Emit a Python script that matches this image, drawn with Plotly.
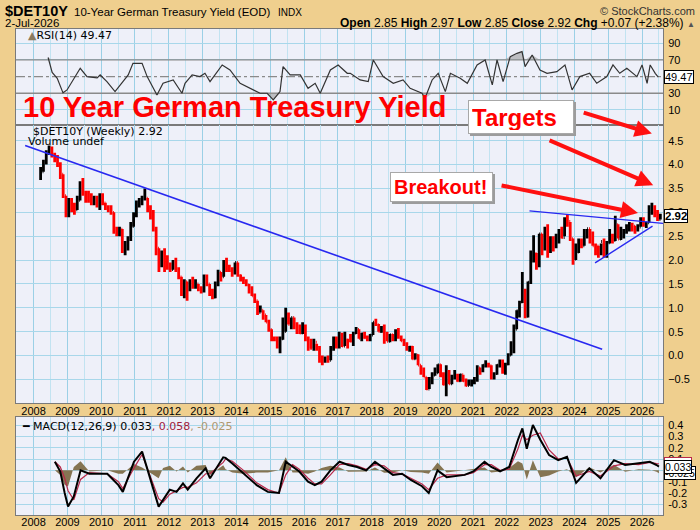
import numpy as np
import plotly.graph_objects as go

# ---------------- DATA ----------------
# Monthly bars, first bar = March 2008
first_year = 2008
first_month = 3

price_high = [
    3.95, 4.10, 4.30, 4.40, 4.38, 4.25, 4.20, 4.05, 3.80, 3.35,              # 2008 Mar-Dec
    3.30, 3.30, 3.20, 3.35, 3.65, 3.72, 3.45, 3.45, 3.40, 3.35, 3.35, 3.40,  # 2009
    3.40, 3.20, 3.15, 3.15, 3.00, 2.70, 2.70, 2.65, 2.40, 2.50, 2.80, 3.00,  # 2010
    3.25, 3.30, 3.35, 3.50, 3.30, 3.15, 3.05, 2.70, 2.25, 2.20, 2.25, 2.10,  # 2011
    1.95, 2.00, 2.05, 1.85, 1.65, 1.60, 1.55, 1.60, 1.65, 1.60, 1.50, 1.45,  # 2012
    1.70, 1.70, 1.50, 1.40, 1.55, 1.80, 1.75, 2.00, 2.05, 1.90, 1.85, 1.95,  # 2013
    1.95, 1.70, 1.65, 1.60, 1.50, 1.45, 1.30, 1.15, 1.05, 0.95, 0.85, 0.75,  # 2014
    0.55, 0.40, 0.40, 0.40, 0.80, 1.00, 0.90, 0.80, 0.80, 0.70, 0.65, 0.70,  # 2015
    0.65, 0.40, 0.35, 0.35, 0.25, 0.20, 0.00, -0.02, 0.00, 0.20, 0.40, 0.40, # 2016
    0.50, 0.48, 0.50, 0.35, 0.45, 0.50, 0.60, 0.55, 0.48, 0.50, 0.42, 0.45,  # 2017
    0.70, 0.77, 0.66, 0.62, 0.65, 0.50, 0.45, 0.45, 0.55, 0.58, 0.42, 0.35,  # 2018
    0.28, 0.20, 0.20, 0.05, 0.03, -0.20, -0.25, -0.45, -0.45, -0.35, -0.25, -0.18,  # 2019
    -0.18, -0.35, -0.20, -0.30, -0.40, -0.30, -0.38, -0.38, -0.40, -0.48, -0.50, -0.50,  # 2020
    -0.45, -0.20, -0.25, -0.18, -0.10, -0.15, -0.20, -0.35, -0.18, -0.08, -0.08, -0.15,  # 2021
    0.05, 0.30, 0.65, 0.95, 1.15, 1.75, 1.40, 1.55, 2.20, 2.52, 2.15, 2.55,  # 2022
    2.55, 2.70, 2.75, 2.50, 2.50, 2.55, 2.65, 2.70, 2.90, 2.95, 2.80, 2.45,  # 2023
    2.35, 2.45, 2.45, 2.65, 2.65, 2.65, 2.60, 2.35, 2.30, 2.35, 2.45, 2.40,  # 2024
    2.65, 2.55, 2.93, 2.75, 2.70, 2.65, 2.75, 2.80, 2.78, 2.72, 2.75, 2.90,  # 2025
    2.90, 2.80, 3.15, 3.20, 3.15, 3.05, 2.97,                                # 2026 Jan-Jul
]
price_low = [
    3.68, 3.85, 4.00, 4.20, 4.15, 4.05, 3.95, 3.70, 3.30, 2.90,
    2.90, 3.00, 2.95, 3.05, 3.25, 3.35, 3.20, 3.20, 3.15, 3.15, 3.10, 3.05,
    3.15, 3.05, 3.00, 2.95, 2.55, 2.50, 2.50, 2.15, 2.10, 2.20, 2.40, 2.70,
    2.90, 3.10, 3.15, 3.25, 3.00, 2.85, 2.60, 2.10, 1.75, 1.85, 1.75, 1.80,
    1.75, 1.80, 1.75, 1.60, 1.25, 1.20, 1.15, 1.35, 1.40, 1.40, 1.35, 1.30,
    1.32, 1.45, 1.25, 1.18, 1.20, 1.45, 1.55, 1.65, 1.75, 1.75, 1.65, 1.70,
    1.65, 1.55, 1.50, 1.45, 1.30, 1.25, 1.10, 0.85, 0.90, 0.75, 0.70, 0.50,
    0.30, 0.30, 0.15, 0.05, 0.33, 0.50, 0.65, 0.55, 0.55, 0.45, 0.45, 0.45,
    0.30, 0.10, 0.15, 0.10, 0.10, -0.15, -0.20, -0.15, -0.15, -0.10, 0.10, 0.15,
    0.15, 0.18, 0.20, 0.15, 0.28, 0.20, 0.45, 0.35, 0.30, 0.35, 0.30, 0.30,
    0.43, 0.62, 0.50, 0.48, 0.25, 0.30, 0.28, 0.30, 0.30, 0.35, 0.30, 0.20,
    0.10, 0.08, -0.08, -0.08, -0.20, -0.40, -0.45, -0.72, -0.70, -0.60, -0.42, -0.37,
    -0.45, -0.62, -0.85, -0.60, -0.60, -0.50, -0.55, -0.55, -0.55, -0.65, -0.63, -0.65,
    -0.60, -0.55, -0.40, -0.35, -0.25, -0.25, -0.50, -0.50, -0.40, -0.25, -0.38, -0.40,
    -0.20, 0.00, 0.05, 0.55, 0.80, 1.10, 0.78, 0.80, 1.50, 1.95, 1.80, 1.85,
    2.10, 2.20, 2.05, 2.15, 2.18, 2.25, 2.35, 2.45, 2.50, 2.70, 2.40, 1.90,
    2.00, 2.15, 2.25, 2.30, 2.45, 2.35, 2.30, 2.10, 2.05, 2.10, 2.05, 2.05,
    2.35, 2.35, 2.40, 2.45, 2.42, 2.45, 2.55, 2.60, 2.60, 2.55, 2.60, 2.70,
    2.70, 2.67, 2.78, 2.95, 2.90, 2.82, 2.85,
]
price_close = [
    3.85, 4.05, 4.25, 4.30, 4.20, 4.10, 4.00, 3.80, 3.35, 3.00,
    3.25, 3.10, 3.05, 3.25, 3.55, 3.40, 3.35, 3.30, 3.20, 3.25, 3.20, 3.35,
    3.20, 3.10, 3.05, 3.00, 2.65, 2.55, 2.65, 2.20, 2.30, 2.45, 2.70, 2.95,
    3.20, 3.20, 3.30, 3.30, 3.05, 3.00, 2.65, 2.25, 1.90, 2.05, 2.00, 1.85,
    1.80, 1.85, 1.80, 1.65, 1.30, 1.55, 1.40, 1.50, 1.45, 1.50, 1.40, 1.35,
    1.65, 1.50, 1.30, 1.22, 1.50, 1.75, 1.65, 1.90, 1.80, 1.80, 1.75, 1.95,
    1.68, 1.60, 1.55, 1.48, 1.35, 1.25, 1.15, 0.90, 0.95, 0.85, 0.70, 0.55,
    0.35, 0.35, 0.20, 0.35, 0.50, 0.80, 0.65, 0.80, 0.60, 0.50, 0.47, 0.62,
    0.35, 0.15, 0.15, 0.28, 0.15, -0.10, -0.10, -0.05, -0.10, 0.15, 0.25, 0.20,
    0.45, 0.20, 0.33, 0.32, 0.30, 0.47, 0.55, 0.36, 0.46, 0.37, 0.37, 0.43,
    0.70, 0.65, 0.50, 0.56, 0.34, 0.30, 0.44, 0.33, 0.47, 0.38, 0.31, 0.24,
    0.15, 0.18, -0.07, 0.01, -0.20, -0.33, -0.45, -0.70, -0.57, -0.41, -0.36, -0.19,
    -0.43, -0.61, -0.47, -0.59, -0.45, -0.45, -0.53, -0.40, -0.53, -0.63, -0.57, -0.57,
    -0.52, -0.26, -0.29, -0.20, -0.19, -0.21, -0.46, -0.38, -0.20, -0.11, -0.35, -0.18,
    0.01, 0.14, 0.55, 0.94, 1.12, 1.34, 0.82, 1.54, 2.11, 2.14, 1.93, 2.55,
    2.29, 2.65, 2.29, 2.31, 2.28, 2.39, 2.49, 2.47, 2.84, 2.81, 2.45, 2.02,
    2.17, 2.41, 2.30, 2.58, 2.66, 2.50, 2.30, 2.30, 2.13, 2.39, 2.09, 2.36,
    2.46, 2.41, 2.74, 2.44, 2.50, 2.60, 2.70, 2.72, 2.71, 2.63, 2.69, 2.86,
    2.75, 2.78, 3.05, 3.05, 3.00, 2.85, 2.92,
]

# RSI(14) readings (decimal year, value)
rsi_t = [2008.43, 2008.55, 2008.70, 2008.87, 2008.99, 2009.14, 2009.38, 2009.58, 2009.88, 2009.97,
         2010.17, 2010.41, 2010.56, 2010.80, 2010.94, 2011.21, 2011.36, 2011.65, 2011.83, 2012.13,
         2012.39, 2012.48, 2012.69, 2012.92, 2013.07, 2013.22, 2013.58, 2013.81, 2014.11, 2014.40,
         2014.70, 2014.91, 2015.09, 2015.29, 2015.38, 2015.59, 2015.89, 2016.12, 2016.33, 2016.48,
         2016.78, 2017.01, 2017.28, 2017.37, 2017.66, 2017.90, 2018.05, 2018.34, 2018.64, 2018.93,
         2019.14, 2019.49, 2019.58, 2019.79, 2019.97, 2020.18, 2020.33, 2020.62, 2020.83, 2021.12,
         2021.36, 2021.57, 2021.71, 2021.89, 2022.10, 2022.30, 2022.45, 2022.54, 2022.75, 2022.98,
         2023.19, 2023.48, 2023.72, 2023.93, 2024.16, 2024.45, 2024.66, 2024.96, 2025.14, 2025.34,
         2025.55, 2025.85, 2026.00, 2026.15, 2026.24, 2026.39, 2026.48]
rsi_val = [73, 55, 48, 30.5, 34, 44, 60, 50, 48.5, 52,
           44, 32, 40, 52, 66, 66, 50, 28, 42, 46,
           30, 42, 52, 50, 54, 44, 64, 58, 42, 36,
           30, 30, 22, 32, 62, 52, 52, 36, 42, 30,
           58, 64, 54, 54, 46, 44, 70, 50, 42, 46,
           36, 30, 24, 46, 54, 32, 54, 48, 42, 64,
           70, 40, 70, 44, 74, 78, 80, 62, 76, 58,
           54, 56, 64, 34, 50, 54, 42, 50, 64, 54,
           60, 50, 64, 42, 64, 54, 49.47]

# MACD(12,26,9) readings (decimal year, MACD, signal)
macd_t = [2008.63, 2008.79, 2008.92, 2009.02, 2009.19, 2009.39, 2009.65, 2010.18, 2010.51, 2010.64,
          2010.97, 2011.21, 2011.70, 2011.83, 2012.03, 2012.23, 2012.42, 2012.56, 2012.82, 2013.09,
          2013.22, 2013.61, 2013.68, 2013.88, 2014.21, 2014.60, 2014.93, 2015.13, 2015.26, 2015.46,
          2015.66, 2015.86, 2016.12, 2016.32, 2016.52, 2016.78, 2017.05, 2017.31, 2017.57, 2017.84,
          2018.10, 2018.37, 2018.63, 2018.90, 2019.16, 2019.49, 2019.69, 2019.95, 2020.22, 2020.75,
          2021.01, 2021.34, 2021.54, 2021.80, 2022.07, 2022.33, 2022.46, 2022.59, 2022.77, 2022.99,
          2023.25, 2023.52, 2023.78, 2024.05, 2024.44, 2024.77, 2025.17, 2025.50, 2025.90, 2026.23,
          2026.43, 2026.50]
macd_val = [0.076, -0.01, -0.20, -0.32, -0.23, 0.00, -0.03, -0.03, -0.13, -0.19,
            0.076, 0.165, -0.32, -0.26, -0.17, -0.19, -0.115, -0.17, -0.07, 0.018,
            -0.07, 0.115, 0.11, 0.06, -0.03, -0.13, -0.19, -0.20, -0.20, 0.076,
            0.03, -0.01, -0.10, -0.13, -0.10, 0.00, 0.076, 0.047, 0.03, 0.00,
            0.076, 0.018, -0.04, -0.03, -0.085, -0.14, -0.20, 0.00, -0.06, -0.04,
            -0.01, 0.076, 0.03, -0.01, 0.03, 0.27, 0.37, 0.19, 0.40, 0.27,
            0.135, 0.09, 0.12, -0.11, 0.018, -0.07, 0.09, 0.047, 0.06, 0.076,
            0.047, 0.033]
signal_val = [0.076, 0.03, -0.07, -0.18, -0.26, -0.08, -0.02, -0.03, -0.10, -0.16,
              0.02, 0.14, -0.25, -0.28, -0.21, -0.18, -0.15, -0.15, -0.11, -0.03,
              -0.03, 0.07, 0.10, 0.08, 0.00, -0.11, -0.17, -0.19, -0.20, -0.04,
              0.05, 0.01, -0.07, -0.12, -0.12, -0.04, 0.05, 0.06, 0.04, 0.01,
              0.05, 0.04, -0.02, -0.03, -0.07, -0.12, -0.17, -0.07, -0.04, -0.04,
              -0.02, 0.05, 0.05, 0.00, 0.01, 0.19, 0.31, 0.27, 0.31, 0.33,
              0.18, 0.10, 0.11, -0.05, -0.01, -0.05, 0.04, 0.06, 0.05, 0.07,
              0.06, 0.058]

# Hand-drawn trendlines (decimal year, yield)
trend_down_t, trend_down_v = [2007.75, 2024.82], [4.40, 0.13]
trend_res_t, trend_res_v = [2022.67, 2026.62], [3.03, 2.77]
trend_sup_t, trend_sup_v = [2024.61, 2026.31], [1.94, 2.71]

# Red arrows (tail -> head, decimal year / yield)
arrow_tail_t = [2024.23, 2023.22, 2021.80]
arrow_tail_v = [5.10, 4.52, 3.57]
arrow_head_t = [2026.29, 2026.33, 2025.88]
arrow_head_v = [4.65, 3.57, 2.985]

# RSI reference levels
rsi_levels = [70, 30]
rsi_mid = 50

year_ticks = list(range(2008, 2027))
price_ticks = [-0.5, 0.0, 0.5, 1.0, 1.5, 2.0, 2.5, 3.0, 3.5, 4.0, 4.5]
rsi_ticks = [10, 30, 70, 90]
macd_ticks = [-0.3, -0.2, -0.1, 0.0, 0.1, 0.2, 0.3, 0.4]
macd_ticktext = ["-0.3", "-0.2", "-0.1", "", "0.1", "0.2", "0.3", "0.4"]

# ---------------- derived ----------------
n = len(price_close)
month_t = [first_year + (first_month - 1 + i + 0.5) / 12 for i in range(n)]
price_open = [price_close[0]] + price_close[:-1]
rsi_arr = np.array(rsi_val, dtype=float)
hist_val = (np.array(macd_val) - np.array(signal_val)).tolist()

# ---------------- style ----------------
TAN = "#EFCF8E"
PLOTBG = "#EEF0F9"
GRID_MAJOR = "#9BD0E6"
GRID_MINOR = "#C2E3F1"
GRID_H = "#A8D7EA"
BORDER = "#7A7A7A"
XR = [2007.48, 2026.62]
SANS = "Liberation Sans, Arial, sans-serif"
AXFONT = dict(family=SANS, size=11, color="black")
LBLFONT = "DejaVu Sans, Verdana, sans-serif"

fig = go.Figure()

# ---- RSI panel ----
for lvl, dash in [(rsi_levels[0], "solid"), (rsi_levels[1], "solid"), (rsi_mid, "dashdot")]:
    fig.add_trace(go.Scatter(x=XR, y=[lvl, lvl], mode="lines",
                             line=dict(color="#8A8A8A", width=1.3, dash=dash),
                             hoverinfo="skip", xaxis="x", yaxis="y"))
fig.add_trace(go.Scatter(x=rsi_t, y=[rsi_levels[1]] * len(rsi_t), mode="lines", line=dict(width=0),
                         hoverinfo="skip", xaxis="x", yaxis="y"))
fig.add_trace(go.Scatter(x=rsi_t, y=np.minimum(rsi_arr, rsi_levels[1]).tolist(), mode="lines",
                         line=dict(width=0), fill="tonexty", fillcolor="rgba(150,150,150,0.55)",
                         hoverinfo="skip", xaxis="x", yaxis="y"))
fig.add_trace(go.Scatter(x=rsi_t, y=[rsi_levels[0]] * len(rsi_t), mode="lines", line=dict(width=0),
                         hoverinfo="skip", xaxis="x", yaxis="y"))
fig.add_trace(go.Scatter(x=rsi_t, y=np.maximum(rsi_arr, rsi_levels[0]).tolist(), mode="lines",
                         line=dict(width=0), fill="tonexty", fillcolor="rgba(150,150,150,0.55)",
                         hoverinfo="skip", xaxis="x", yaxis="y"))
fig.add_trace(go.Scatter(x=rsi_t, y=rsi_val, mode="lines", line=dict(color="#333333", width=1.2),
                         xaxis="x", yaxis="y"))

# ---- price panel ----
fig.add_trace(go.Ohlc(x=month_t, open=price_open, high=price_high, low=price_low, close=price_close,
                      increasing=dict(line=dict(color="black", width=2.8)),
                      decreasing=dict(line=dict(color="#FF0000", width=2.8)),
                      tickwidth=0.3, xaxis="x2", yaxis="y2"))
for tt, vv, w in [(trend_down_t, trend_down_v, 1.6), (trend_res_t, trend_res_v, 1.4),
                  (trend_sup_t, trend_sup_v, 1.4)]:
    fig.add_trace(go.Scatter(x=tt, y=vv, mode="lines", line=dict(color="#2828F0", width=w),
                             xaxis="x2", yaxis="y2", cliponaxis=True))

# ---- MACD panel ----
fig.add_trace(go.Scatter(x=macd_t, y=hist_val, mode="lines", line=dict(width=0, color="#857452"),
                         fill="tozeroy", fillcolor="#857452", xaxis="x3", yaxis="y3"))
fig.add_trace(go.Scatter(x=macd_t, y=signal_val, mode="lines", line=dict(color="#B8284A", width=1.2),
                         xaxis="x3", yaxis="y3"))
fig.add_trace(go.Scatter(x=macd_t, y=macd_val, mode="lines", line=dict(color="black", width=2),
                         xaxis="x3", yaxis="y3"))


def xax(show_labels, anchor):
    return dict(range=XR, tickmode="array", tickvals=year_ticks, ticktext=[str(y) for y in year_ticks],
                showticklabels=show_labels, showgrid=True, gridcolor=GRID_MAJOR, gridwidth=1,
                minor=dict(dtick=0.5, tick0=2008, showgrid=True, gridcolor=GRID_MINOR, gridwidth=1),
                zeroline=False, showline=True, mirror=True, linecolor=BORDER, linewidth=1,
                ticks="", tickfont=AXFONT, anchor=anchor, rangeslider=dict(visible=False),
                ticklabelstandoff=-3, fixedrange=True)


def yax(domain, rng, tickvals, ticktext=None, fmt=None):
    d = dict(domain=domain, range=rng, side="right", tickmode="array", tickvals=tickvals,
             showgrid=True, gridcolor=GRID_H, gridwidth=1, zeroline=False, showline=True,
             mirror=True, linecolor=BORDER, linewidth=1, ticks="", tickfont=AXFONT,
             ticklabelstandoff=2, fixedrange=True)
    if ticktext is not None:
        d["ticktext"] = ticktext
    if fmt:
        d["tickformat"] = fmt
    return d


fig.update_layout(
    width=700, height=530,
    margin=dict(l=16, r=37, t=29, b=15),
    paper_bgcolor=TAN, plot_bgcolor=PLOTBG,
    showlegend=False, template="none",
    font=dict(family=SANS, size=12, color="black"),
    xaxis=xax(False, "y"),
    xaxis2=xax(True, "y2"),
    xaxis3=xax(True, "y3"),
    yaxis=yax([0.8025, 1.0], [-8.1, 107.2], rsi_ticks),
    yaxis2=yax([0.2298, 0.8025], [-1.0, 4.83], price_ticks, fmt=".1f"),
    yaxis3=yax([0.0, 0.2016], [-0.394, 0.4706], macd_ticks, ticktext=macd_ticktext),
)

anns = []


def txt(x, y, text, size, family=LBLFONT, color="black", xanchor="left", **kw):
    a = dict(xref="paper", yref="paper", x=x, y=y, text=text, showarrow=False, xanchor=xanchor,
             yanchor="middle", font=dict(family=family, size=size, color=color))
    a.update(kw)
    anns.append(a)


# header (paper x: pixel -> (px-16)/647)
txt(-0.0201, 1.0365, "<b>$DET10Y</b>", 14.5, family=SANS)
txt(0.0866, 1.0345, "10-Year German Treasury Yield (EOD)", 11.5, family=SANS)
txt(0.4019, 1.0345, "INDX", 10, family=SANS)
txt(1.0526, 1.0365, "© StockCharts.com", 11, family=SANS, color="#333333", xanchor="right")
txt(-0.0201, 1.0123, "2-Jul-2026", 11.5, family=SANS)
txt(1.0526, 1.0123, "<b>Open</b> 2.85 <b>High</b> 2.97 <b>Low</b> 2.85 <b>Close</b> 2.92 "
                    "<b>Chg</b> +0.07 (+2.38%) <span style='font-size:8px;color:#555'>▲</span>", 12,
    family=SANS, xanchor="right")

# panel labels
txt(0.0155, 0.9856, "<span style='color:#8a7a60'>▲</span>RSI(14) 49.47", 11)
txt(0.0232, 0.7887, "$DET10Y (Weekly) 2.92", 11)
txt(0.0155, 0.7675, "Volume undef", 11)
txt(0.0062, 0.1831, "<b>━</b> MACD(12,26,9) 0.033<span style='color:#A0203C'>, 0.058</span>"
                    "<span style='color:#B09870'>, -0.025</span>", 11)

# big title
txt(0.00726, 0.8385, "<b>10 Year German Treasury Yield</b>", 29, family=SANS, color="#FF0000")

# callout boxes (shadow first)
for cx, cy, label, size, w, h in [(0.7805, 0.8189, "Targets", 24, 98, 26),
                                  (0.6577, 0.6749, "Breakout!", 20, 95, 22)]:
    anns.append(dict(xref="paper", yref="paper", x=cx, y=cy, xshift=2, yshift=-2, text=" ",
                     showarrow=False, width=w, height=h, bgcolor="#9C9C9C", borderpad=3,
                     borderwidth=1, bordercolor="#9C9C9C", xanchor="center", yanchor="middle"))
    anns.append(dict(xref="paper", yref="paper", x=cx, y=cy, text="<b>" + label + "</b>",
                     showarrow=False, width=w, height=h, align="left", bgcolor="white",
                     borderpad=3, borderwidth=1, bordercolor="#A8A8A8", xanchor="center",
                     yanchor="middle", font=dict(family=SANS, size=size, color="#FF0000")))

# red arrows
for ta, va, th, vh in zip(arrow_tail_t, arrow_tail_v, arrow_head_t, arrow_head_v):
    anns.append(dict(xref="x2", yref="y2", axref="x2", ayref="y2", x=th, y=vh, ax=ta, ay=va,
                     text="", showarrow=True, arrowhead=2, arrowsize=0.85, arrowwidth=4,
                     arrowcolor="#FF1010", standoff=0))


# right-hand value boxes
def valbox(yref, y, text, border="black", bold=False, size=10.5):
    anns.append(dict(xref="paper", yref=yref, x=1.0, y=y, xshift=1, xanchor="left", yanchor="middle",
                     text=("<b>%s</b>" % text) if bold else text, showarrow=False, bgcolor="white",
                     bordercolor=border, borderwidth=1, borderpad=0,
                     font=dict(family=SANS, size=size, color="black")))


valbox("y", rsi_val[-1], "49.47", size=11)
valbox("y2", price_close[-1], "2.92", bold=True, size=11.5)
valbox("y3", signal_val[-1], "0.058", border="#B8284A")
valbox("y3", hist_val[-1], "-0.025")
valbox("y3", macd_val[-1], "0.033")

fig.update_layout(annotations=anns)
fig.write_html("out.html")
